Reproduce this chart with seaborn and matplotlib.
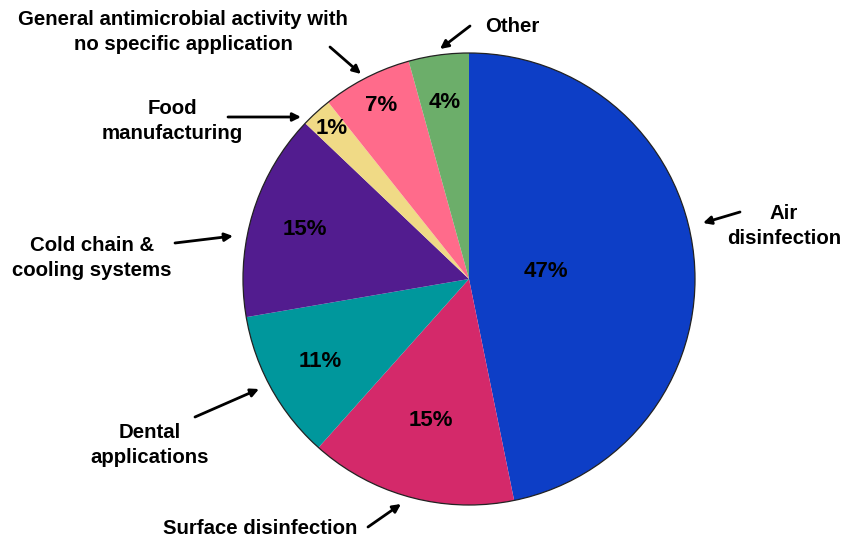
import matplotlib
matplotlib.use("Agg")
import matplotlib.pyplot as plt
import seaborn as sns
import numpy as np

categories = ["Air disinfection", "Surface disinfection", "Dental applications",
              "Cold chain & cooling systems", "Food manufacturing",
              "General antimicrobial activity with no specific application", "Other"]
values = [46.8, 14.8, 10.7, 14.8, 2.2, 6.4, 4.3]
pct_labels = ["47%", "15%", "11%", "15%", "1%", "7%", "4%"]
colors = ["#0D3EC6", "#D4296A", "#00979C", "#521C8F", "#F0DA86", "#FF6B8B", "#6CAE6A"]
label_dist = [0.34, 0.65, 0.75, 0.76, 0.90, 0.86, 0.79]

sns.set_theme(style="white")
plt.rcParams['font.family'] = ['Liberation Sans', 'DejaVu Sans']

W, H = 842, 541
fig = plt.figure(figsize=(W / 100, H / 100), dpi=100)
ax = fig.add_axes([0, 0, 1, 1])

cx, cy, R = 469, H - 279, 226
wedges, _ = ax.pie(values, colors=colors, startangle=90, counterclock=False,
                   center=(cx, cy), radius=R, frame=True,
                   wedgeprops=dict(linewidth=0))
ax.set_xlim(0, W)
ax.set_ylim(0, H)
ax.set_aspect('equal')
ax.axis('off')
ax.add_patch(plt.Circle((cx, cy), R, fill=False, edgecolor='#222222', linewidth=0.9))

for w, lab, d in zip(wedges, pct_labels, label_dist):
    ang = np.deg2rad((w.theta1 + w.theta2) / 2)
    ax.text(cx + d * R * np.cos(ang), cy + d * R * np.sin(ang), lab,
            ha='center', va='center', fontsize=16, fontweight='bold', color='black')

def Y(y):
    return H - y

tk = dict(ha='center', va='center', fontsize=14.7, fontweight='bold', color='black',
          linespacing=1.38)
arrow = dict(arrowstyle='-|>', color='black', lw=2, mutation_scale=12, shrinkA=0, shrinkB=0)

notes = [
    ("Air\ndisinfection", (784, 226), (740, 212), (703, 223)),
    ("Surface disinfection", (260, 529), (368, 527), (401, 504)),
    ("Dental\napplications", (150, 445), (195, 417), (259, 389)),
    ("Cold chain &\ncooling systems", (92, 258), (175, 243), (233, 236)),
    ("Food\nmanufacturing", (172, 121), (228, 117), (301, 117)),
    ("General antimicrobial activity with\nno specific application", (183, 32), (330, 47), (361, 74)),
    ("Other", (512, 27), (470, 26), (440, 49)),
]
for txt, tpos, tail, head in notes:
    ax.text(tpos[0], Y(tpos[1]), txt, **tk)
    ax.annotate("", xy=(head[0], Y(head[1])), xytext=(tail[0], Y(tail[1])),
                arrowprops=arrow)

fig.savefig("out.png", dpi=100)
